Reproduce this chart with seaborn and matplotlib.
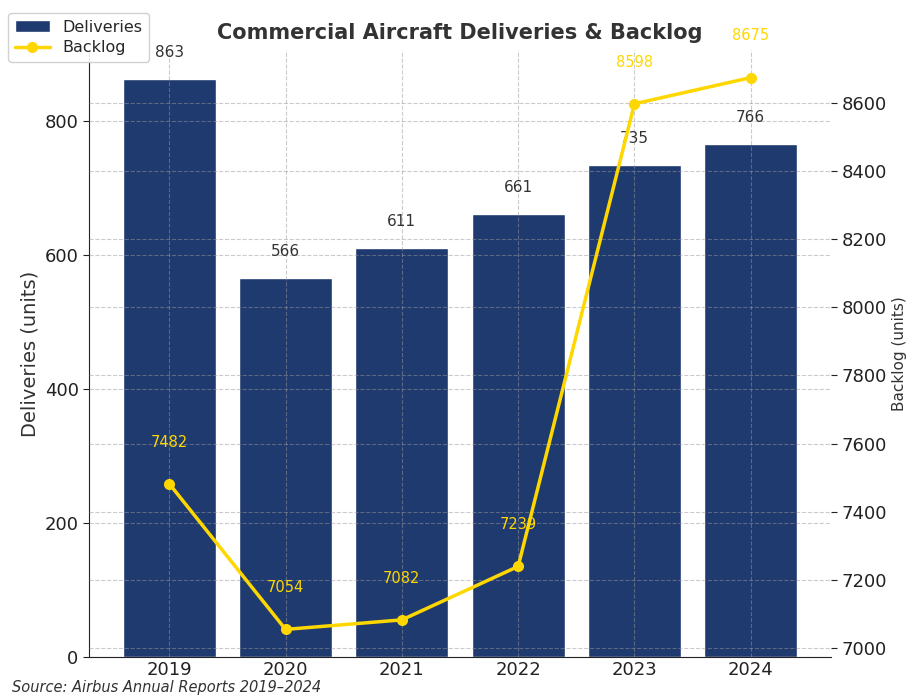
import numpy as np
import matplotlib
matplotlib.use("Agg")
import matplotlib.pyplot as plt
import seaborn as sns

years = ["2019", "2020", "2021", "2022", "2023", "2024"]
deliveries = [863, 566, 611, 661, 735, 766]
backlog = [7482, 7054, 7082, 7239, 8598, 8675]

BAR_COLOR = "#1f3a6e"
LINE_COLOR = "#ffd700"
TEXT_COLOR = "#333333"
GRID_KW = dict(linestyle="--", color="#999999", linewidth=0.8, alpha=0.5)

sns.set_style("white")
plt.rcParams["font.family"] = ["DejaVu Sans"]

fig = plt.figure(figsize=(9.06, 6.98), dpi=100)
ax1 = fig.add_axes([89 / 906, 1 - 657 / 698, (831 - 89) / 906, (657 - 50) / 698])

# Deliveries as bars on the left axis
sns.barplot(x=years, y=deliveries, color=BAR_COLOR, saturation=1, width=0.8,
            ax=ax1, label="Deliveries")
ax1.set_ylabel("Deliveries (units)", fontsize=14, color=TEXT_COLOR)
ax1.set_xlabel("")
ax1.tick_params(axis="y", labelsize=13, colors="#222222", direction="out", length=4)
ax1.tick_params(axis="x", labelsize=13, colors="#222222", direction="in", length=4, pad=3)
ax1.grid(True, **GRID_KW)
ax1.set_axisbelow(False)

for i, v in enumerate(deliveries):
    ax1.annotate(str(v), (i, v), xytext=(0, 19), textcoords="offset points",
                 ha="center", va="center", fontsize=11, color=TEXT_COLOR)

# Backlog as a line on the right axis
ax2 = ax1.twinx()
xpos = np.arange(len(years))
sns.lineplot(x=xpos, y=backlog, color=LINE_COLOR, linewidth=2.5, marker="o",
             markersize=8, markeredgewidth=0, ax=ax2, label="Backlog")
ax2.set_ylabel("Backlog (units)", fontsize=11, color=TEXT_COLOR)
ax2.tick_params(axis="y", labelsize=13, colors="#222222", direction="out", length=4)
ax2.grid(True, **GRID_KW)

for i, v in enumerate(backlog):
    ax2.annotate(str(v), (i, v), xytext=(0, 30), textcoords="offset points",
                 ha="center", va="center", fontsize=10.5, color=LINE_COLOR)

ax1.set_xlim(-0.69, 5.69)

for ax in (ax1, ax2):
    for side in ("top", "right"):
        ax.spines[side].set_visible(False)
ax2.spines["left"].set_visible(False)
ax2.spines["bottom"].set_visible(False)
ax1.spines["left"].set_color("#222222")
ax1.spines["bottom"].set_color("#222222")

h1, l1 = ax1.get_legend_handles_labels()
h2, l2 = ax2.get_legend_handles_labels()
for ax in (ax1, ax2):
    if ax.get_legend():
        ax.get_legend().remove()
fig.legend(h1 + h2, l1 + l2, loc="upper left", bbox_to_anchor=(0.004, 0.988),
           fontsize=11.5, frameon=True, framealpha=0.9, edgecolor="#cccccc",
           borderaxespad=0.3, handlelength=2.2, labelspacing=0.35)

ax1.set_title("Commercial Aircraft Deliveries & Backlog", fontsize=15,
              fontweight="bold", color=TEXT_COLOR, pad=8)

fig.text(0.013, 0.004, "Source: Airbus Annual Reports 2019\u20132024",
         fontsize=10.5, style="italic", color=TEXT_COLOR, ha="left", va="bottom")

fig.savefig("out.png", dpi=100)
